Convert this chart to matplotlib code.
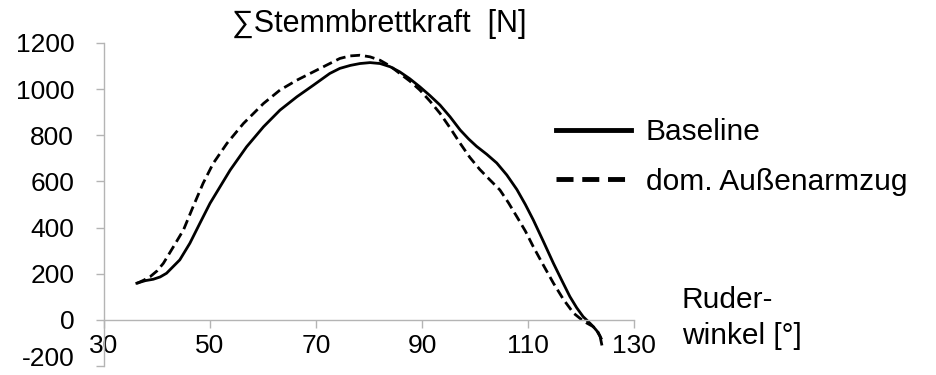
import matplotlib.pyplot as plt
import matplotlib.transforms as mtransforms

plt.rcParams['font.family'] = ['Liberation Sans', 'DejaVu Sans']
plt.rcParams['axes.unicode_minus'] = False

# Ruderwinkel [°] and force [N]
baseline_x = [36.2, 37.8, 39.3, 40.6, 41.8, 44.3, 46.2, 48.1, 50.0, 51.9, 53.8, 56.9,
              60.1, 63.2, 66.4, 69.5, 72.6, 74.5, 76.5, 78.3, 80.2, 82.1, 84.0, 85.8,
              87.7, 89.6, 91.5, 93.4, 95.3, 97.2, 98.8, 100.3, 102.2, 104.1, 106.0,
              107.9, 109.5, 111.0, 112.9, 114.8, 116.4, 117.9, 119.2, 120.4, 121.4,
              122.3, 123.0, 123.6, 123.9]
baseline_y = [159, 170, 176, 186, 202, 260, 332, 419, 505, 577, 649, 750,
              837, 909, 967, 1017, 1068, 1090, 1103, 1111, 1115, 1111, 1097, 1075,
              1045, 1010, 972, 931, 880, 823, 784, 752, 718, 680, 628,
              565, 500, 433, 340, 245, 170, 101, 52, 14, -8,
              -29, -48, -72, -105]

aussen_x = [36.2, 37.5, 38.7, 40.0, 41.2, 43.1, 45.0, 46.8, 48.7, 50.6, 53.2, 56.3,
            60.1, 63.2, 66.4, 69.5, 72.6, 74.5, 76.4, 78.3, 80.2, 82.1, 84.0, 85.8,
            87.7, 89.6, 91.5, 93.4, 95.3, 97.2, 99.0, 100.9, 102.8, 104.7, 106.3,
            107.9, 109.5, 111.0, 112.9, 114.8, 116.7, 118.6, 120.0, 121.1, 122.2,
            123.0, 123.9]
aussen_y = [158, 172, 187, 212, 245, 317, 390, 490, 592, 678, 765, 851,
            938, 996, 1039, 1075, 1111, 1133, 1144, 1147, 1140, 1125, 1100, 1068,
            1035, 996, 948, 895, 832, 765, 705, 652, 607, 563, 508,
            447, 385, 317, 237, 159, 88, 29, 3, -14, -28,
            -43, -85]

xticks = [30, 50, 70, 90, 110, 130]
yticks = [-200, 0, 200, 400, 600, 800, 1000, 1200]

fig = plt.figure(figsize=(9.36, 3.75), dpi=100)
ax = fig.add_axes([104 / 936, 9 / 375, 530 / 936, 323 / 375])

ax.plot(baseline_x, baseline_y, color='black', lw=2.0, label='Baseline')
ax.plot(aussen_x, aussen_y, color='black', lw=2.0, dashes=(3.5, 1.8),
        label='dom. Außenarmzug')

ax.set_xlim(30, 130)
ax.set_ylim(-200, 1200)
ax.set_xticks(xticks)
ax.set_yticks(yticks)

axis_col = '#b4b4b4'
ax.spines['top'].set_visible(False)
ax.spines['right'].set_visible(False)
ax.spines['bottom'].set_position(('data', 0))
for s in ['left', 'bottom']:
    ax.spines[s].set_color(axis_col)
    ax.spines[s].set_linewidth(1.0)
ax.tick_params(axis='both', colors=axis_col, length=5.5, width=1.0, labelsize=19,
               labelcolor='black')
ax.tick_params(axis='y', pad=16)
ax.tick_params(axis='x', pad=5)
ax.patch.set_alpha(0)

# the lowest label sits a bit higher in the reference (it would be cut off)
fig.canvas.draw()
low = ax.get_yticklabels()[0]
low.set_transform(low.get_transform() +
                  mtransforms.ScaledTranslation(0, 10 / 100, fig.dpi_scale_trans))

fig.text(379 / 936, 1 - 24 / 375, '∑Stemmbrettkraft  [N]', fontsize=22,
         ha='center', va='center')

leg = ax.legend(loc='center left', bbox_to_anchor=(556 / 936, 1 - 157 / 375),
                bbox_transform=fig.transFigure, frameon=False, fontsize=21.5,
                handlelength=2.5, handletextpad=0.5, labelspacing=0.72,
                borderaxespad=0, borderpad=0)
for line in leg.get_lines():
    line.set_linewidth(3.5)

fig.text(682 / 936, 1 - 300 / 375, 'Ruder-', fontsize=21.5, ha='left', va='center')
fig.text(682 / 936, 1 - 336 / 375, 'winkel [°]', fontsize=21.5, ha='left', va='center')

fig.savefig('out.png', dpi=100)
